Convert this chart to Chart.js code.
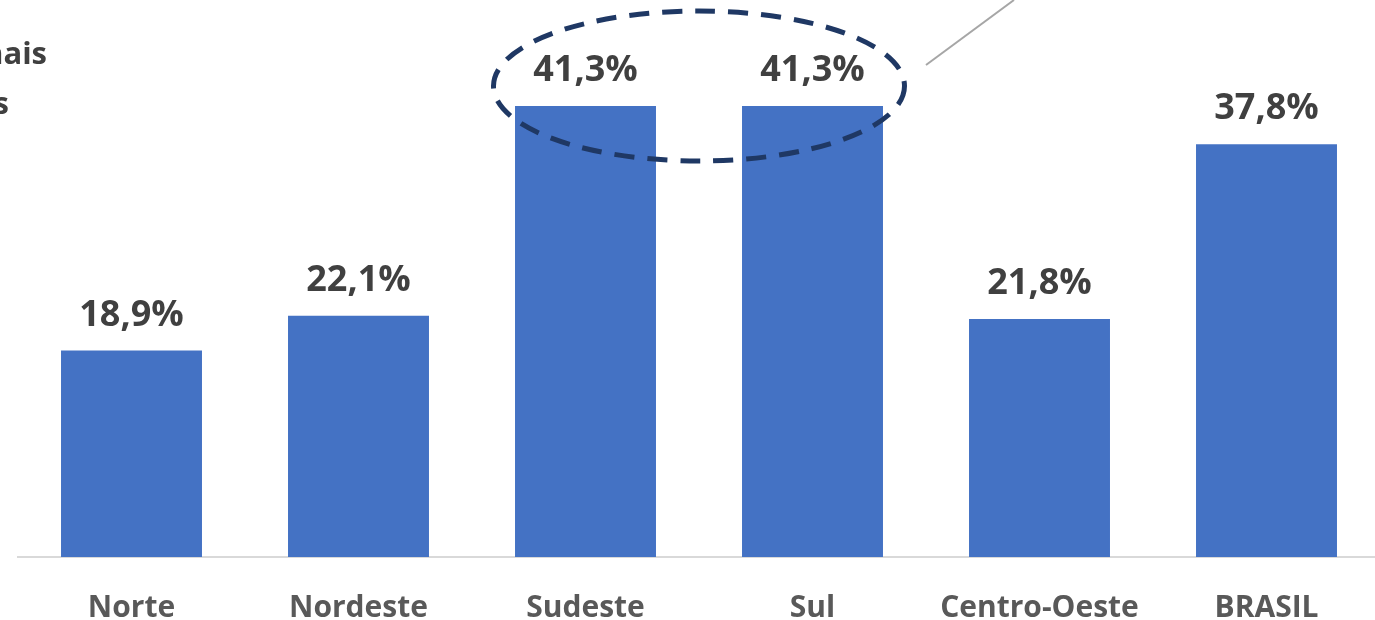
<!DOCTYPE html>
<html>
<head>
<meta charset="utf-8">
<script src="https://cdn.jsdelivr.net/npm/chart.js@4"></script>
<style>
  html, body { margin: 0; padding: 0; background: #fff; overflow: hidden; }
  canvas { display: block; }
</style>
</head>
<body>
<canvas id="chart" width="1380" height="620"></canvas>
<script>
const regions = ['Norte', 'Nordeste', 'Sudeste', 'Sul', 'Centro-Oeste', 'BRASIL'];
const shares = [18.9, 22.1, 41.3, 41.3, 21.8, 37.8];
const cutTitle = ['mais', 'anos'];

// value labels above bars, formatted with comma decimals
const barLabels = {
  id: 'barLabels',
  afterDatasetsDraw(chart) {
    const ctx = chart.ctx;
    const meta = chart.getDatasetMeta(0);
    ctx.save();
    ctx.font = 'bold 36px "Open Sans", sans-serif';
    ctx.fillStyle = '#404040';
    ctx.textAlign = 'center';
    ctx.textBaseline = 'middle';
    meta.data.forEach((bar, i) => {
      ctx.fillText(shares[i].toFixed(1).replace('.', ',') + '%', bar.x, bar.y - 35);
    });
    ctx.restore();
  }
};

// dashed ellipse round Sudeste / Sul and the callout line, plus clipped title text
const extras = {
  id: 'extras',
  afterDraw(chart) {
    const ctx = chart.ctx;
    const meta = chart.getDatasetMeta(0);
    const a = meta.data[2], b = meta.data[3];
    const cx = (a.x + b.x) / 2;
    const cy = a.y - 20;
    ctx.save();
    ctx.strokeStyle = '#1f3864';
    ctx.lineWidth = 5;
    ctx.setLineDash([20, 13]);
    ctx.beginPath();
    ctx.ellipse(cx, cy, (b.x - a.x) / 2 + 92, 75, 0, 0, Math.PI * 2);
    ctx.stroke();
    ctx.setLineDash([]);
    ctx.strokeStyle = '#a6a6a6';
    ctx.lineWidth = 2;
    ctx.beginPath();
    ctx.moveTo(926, 65);
    ctx.lineTo(1014, 0);
    ctx.stroke();

    ctx.font = 'bold 31px "Open Sans", sans-serif';
    ctx.fillStyle = '#404040';
    ctx.textAlign = 'right';
    ctx.textBaseline = 'alphabetic';
    ctx.fillText(cutTitle[0], 47, 64);
    ctx.fillText(cutTitle[1], 9, 114);
    ctx.restore();
  }
};

new Chart(document.getElementById('chart'), {
  type: 'bar',
  data: {
    labels: regions,
    datasets: [{
      data: shares,
      backgroundColor: '#4472c4',
      categoryPercentage: 1,
      barPercentage: 0.621
    }]
  },
  options: {
    responsive: false,
    animation: false,
    devicePixelRatio: 1,
    layout: { padding: { left: 18, right: 0, top: 11, bottom: -39 } },
    plugins: { legend: { display: false }, tooltip: { enabled: false } },
    scales: {
      x: {
        grid: { display: false, drawTicks: false },
        border: { color: '#d9d9d9', width: 2 },
        ticks: {
          color: '#595959',
          padding: 36,
          font: { family: '"Open Sans", sans-serif', size: 30, weight: 'bold', lineHeight: 1 }
        }
      },
      y: { display: false, min: 0, max: 50 }
    }
  },
  plugins: [barLabels, extras]
});
</script>
</body>
</html>
